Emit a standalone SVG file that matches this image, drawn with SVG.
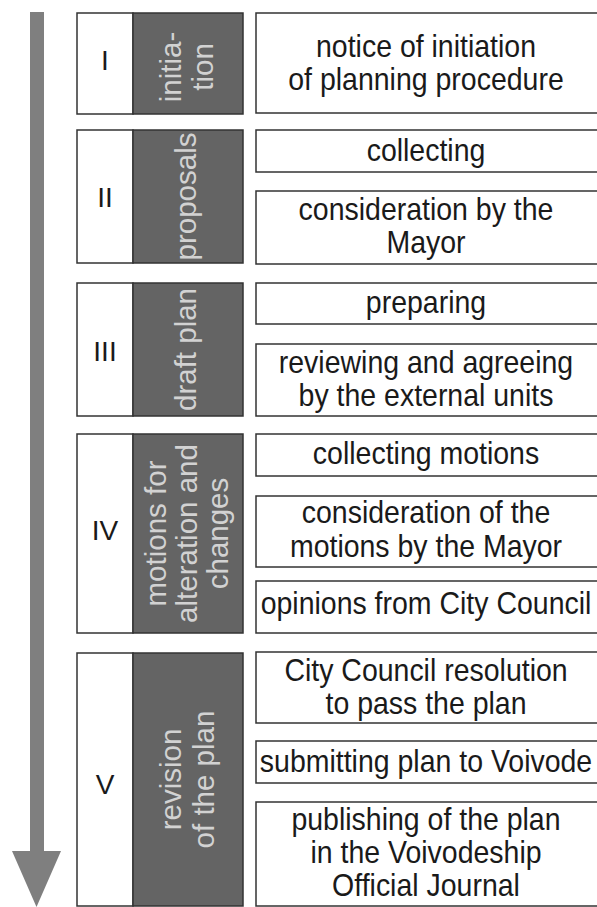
<svg xmlns="http://www.w3.org/2000/svg" width="597" height="907" viewBox="0 0 597 907">
<style>
.box{fill:#fff;stroke:#333;stroke-width:1.5}
.dark{fill:#646464;stroke:#333;stroke-width:1.5}
.t{font-family:"Liberation Sans",Arial,sans-serif;font-size:32px;fill:#1a1a1a;text-anchor:middle}
.n{font-family:"Liberation Sans",Arial,sans-serif;font-size:28px;fill:#1a1a1a;text-anchor:middle}
.v{font-family:"Liberation Sans",Arial,sans-serif;font-size:29.5px;fill:#d2d2d2;text-anchor:middle}
</style>
<rect width="597" height="907" fill="#fff"/>
<g id="connectors">
<rect x="30" y="12" width="14" height="842" fill="#7f7f7f"/>
<polygon points="12,851 61,851 36.5,907" fill="#7f7f7f"/>
</g>
<g id="stage-I">
<rect class="box" x="77" y="13" width="56" height="101"/>
<rect class="dark" x="133" y="13" width="110" height="101"/>
<text class="n" x="105" y="70">I</text>
<g transform="translate(0,67) rotate(-90)"><text class="v" x="0" y="181">initia-</text><text class="v" x="0" y="213">tion</text></g>
</g>
<g id="step-notice">
<rect class="box" x="256" y="13" width="345" height="100"/>
<text class="t" transform="matrix(0.89 0 0 1 426 56.5)">notice of initiation</text>
<text class="t" transform="matrix(0.89 0 0 1 426 89.5)">of planning procedure</text>
</g>
<g id="stage-II">
<rect class="box" x="77" y="130" width="56" height="133"/>
<rect class="dark" x="133" y="130" width="110" height="133"/>
<text class="n" x="105" y="207">II</text>
<g transform="translate(0,196.5) rotate(-90)"><text class="v" x="0" y="196">proposals</text></g>
</g>
<g id="step-collecting">
<rect class="box" x="256" y="130" width="345" height="42"/>
<text class="t" transform="matrix(0.89 0 0 1 426 161)">collecting</text>
</g>
<g id="step-consideration">
<rect class="box" x="256" y="191" width="345" height="73"/>
<text class="t" transform="matrix(0.89 0 0 1 426 220)">consideration by the</text>
<text class="t" transform="matrix(0.89 0 0 1 426 253)">Mayor</text>
</g>
<g id="stage-III">
<rect class="box" x="77" y="283" width="56" height="133"/>
<rect class="dark" x="133" y="283" width="110" height="133"/>
<text class="n" x="105" y="361">III</text>
<g transform="translate(0,349.5) rotate(-90)"><text class="v" x="0" y="196">draft plan</text></g>
</g>
<g id="step-preparing">
<rect class="box" x="256" y="283" width="345" height="41"/>
<text class="t" transform="matrix(0.89 0 0 1 426 313)">preparing</text>
</g>
<g id="step-reviewing">
<rect class="box" x="256" y="344" width="345" height="72"/>
<text class="t" transform="matrix(0.89 0 0 1 426 373)">reviewing and agreeing</text>
<text class="t" transform="matrix(0.89 0 0 1 426 406)">by the external units</text>
</g>
<g id="stage-IV">
<rect class="box" x="77" y="434" width="56" height="199"/>
<rect class="dark" x="133" y="434" width="110" height="199"/>
<text class="n" x="105" y="540">IV</text>
<g transform="translate(0,533.5) rotate(-90)"><text class="v" x="0" y="166">motions for</text><text class="v" x="0" y="197">alteration and</text><text class="v" x="0" y="228">changes</text></g>
</g>
<g id="step-collecting-motions">
<rect class="box" x="256" y="434" width="345" height="42"/>
<text class="t" transform="matrix(0.89 0 0 1 426 464)">collecting motions</text>
</g>
<g id="step-consideration-motions">
<rect class="box" x="256" y="496" width="345" height="71"/>
<text class="t" transform="matrix(0.89 0 0 1 426 523)">consideration of the</text>
<text class="t" transform="matrix(0.89 0 0 1 426 557)">motions by the Mayor</text>
</g>
<g id="step-opinions">
<rect class="box" x="256" y="581" width="345" height="52"/>
<text class="t" transform="matrix(0.89 0 0 1 426 614)">opinions from City Council</text>
</g>
<g id="stage-V">
<rect class="box" x="77" y="653" width="56" height="253"/>
<rect class="dark" x="133" y="653" width="110" height="253"/>
<text class="n" x="105" y="794">V</text>
<g transform="translate(0,779.5) rotate(-90)"><text class="v" x="0" y="181">revision</text><text class="v" x="0" y="214">of the plan</text></g>
</g>
<g id="step-resolution">
<rect class="box" x="256" y="652" width="345" height="71"/>
<text class="t" transform="matrix(0.89 0 0 1 426 681)">City Council resolution</text>
<text class="t" transform="matrix(0.89 0 0 1 426 714)">to pass the plan</text>
</g>
<g id="step-submitting">
<rect class="box" x="256" y="741" width="345" height="42"/>
<text class="t" transform="matrix(0.89 0 0 1 426 772)">submitting plan to Voivode</text>
</g>
<g id="step-publishing">
<rect class="box" x="256" y="802" width="345" height="104"/>
<text class="t" transform="matrix(0.89 0 0 1 426 830)">publishing of the plan</text>
<text class="t" transform="matrix(0.89 0 0 1 426 863)">in the Voivodeship</text>
<text class="t" transform="matrix(0.89 0 0 1 426 896)">Official Journal</text>
</g>
</svg>
